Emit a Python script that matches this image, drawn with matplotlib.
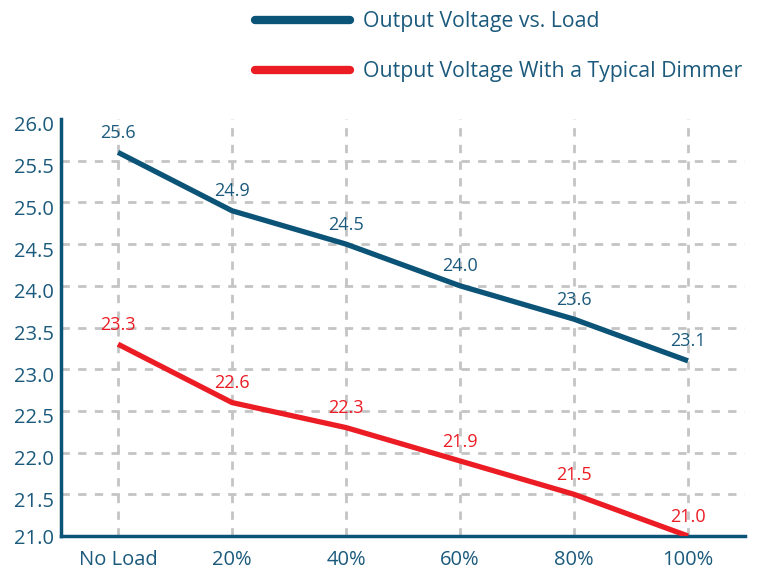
import matplotlib
matplotlib.use("Agg")
import matplotlib.pyplot as plt
from matplotlib.lines import Line2D
from matplotlib.transforms import ScaledTranslation

categories = ["No Load", "20%", "40%", "60%", "80%", "100%"]
load_values = [25.6, 24.9, 24.5, 24.0, 23.6, 23.1]
dimmer_values = [23.3, 22.6, 22.3, 21.9, 21.5, 21.0]
yticks = [21.0, 21.5, 22.0, 22.5, 23.0, 23.5, 24.0, 24.5, 25.0, 25.5, 26.0]
series_names = ["Output Voltage vs. Load", "Output Voltage With a Typical Dimmer"]

BLUE = "#0b5478"
RED = "#ec1c24"
TEXT = "#1b5a7c"
GRID = "#c4c4c4"

plt.rcParams['font.family'] = ['Open Sans', 'DejaVu Sans']

W, H = 763, 569
fig = plt.figure(figsize=(W/100, H/100), dpi=100)
left, right, bottom, top = 61, 745, 536, 119
ax = fig.add_axes([left/W, 1-bottom/H, (right-left)/W, (bottom-top)/H])

x = list(range(len(categories)))
ax.plot(x, load_values, color=BLUE, lw=3.8, solid_capstyle='butt', zorder=3)
ax.plot(x, dimmer_values, color=RED, lw=3.8, solid_capstyle='butt', zorder=3)

for xi, v in zip(x, load_values):
    ax.annotate(f"{v:.1f}", (xi, v), xytext=(0, 7.5), textcoords='offset points',
                ha='center', va='bottom', color=TEXT, fontsize=13)
for xi, v in zip(x, dimmer_values):
    ax.annotate(f"{v:.1f}", (xi, v), xytext=(0, 7.5), textcoords='offset points',
                ha='center', va='bottom', color=RED, fontsize=13)

ax.set_xlim(-0.5, 5.5)
ax.set_ylim(21.0, 26.0)
ax.set_yticks(yticks)
ax.set_yticklabels([f"{t:.1f}" for t in yticks])
ax.set_xticks(x)
ax.set_xticklabels(categories)

for t in yticks[1:-1]:
    ax.axhline(t, color=GRID, lw=2, ls=(0, (3, 3)), zorder=1)
for xi in x:
    ax.axvline(xi, color=GRID, lw=2, ls=(0, (3, 3)), zorder=1)

for s in ['top', 'right']:
    ax.spines[s].set_visible(False)
for s in ['left', 'bottom']:
    ax.spines[s].set_color(BLUE)
    ax.spines[s].set_linewidth(2.5)

ax.tick_params(axis='both', length=0, colors=TEXT, labelsize=14.5)
ax.tick_params(axis='y', pad=5)
ax.tick_params(axis='x', pad=10)

shift = ScaledTranslation(0, -5/100, fig.dpi_scale_trans)
for lab in ax.get_yticklabels()[1:]:
    lab.set_transform(lab.get_transform() + shift)

# legend drawn manually
for yy, col, name in [(20, BLUE, series_names[0]), (70, RED, series_names[1])]:
    fig.add_artist(Line2D([255/W, 350/W], [1-yy/H, 1-yy/H], color=col, lw=6,
                          solid_capstyle='round', transform=fig.transFigure))
    fig.text(363/W, 1-(yy+1)/H, name, color=TEXT, fontsize=15.3, va='center', ha='left')

fig.savefig("out.png", dpi=100)
